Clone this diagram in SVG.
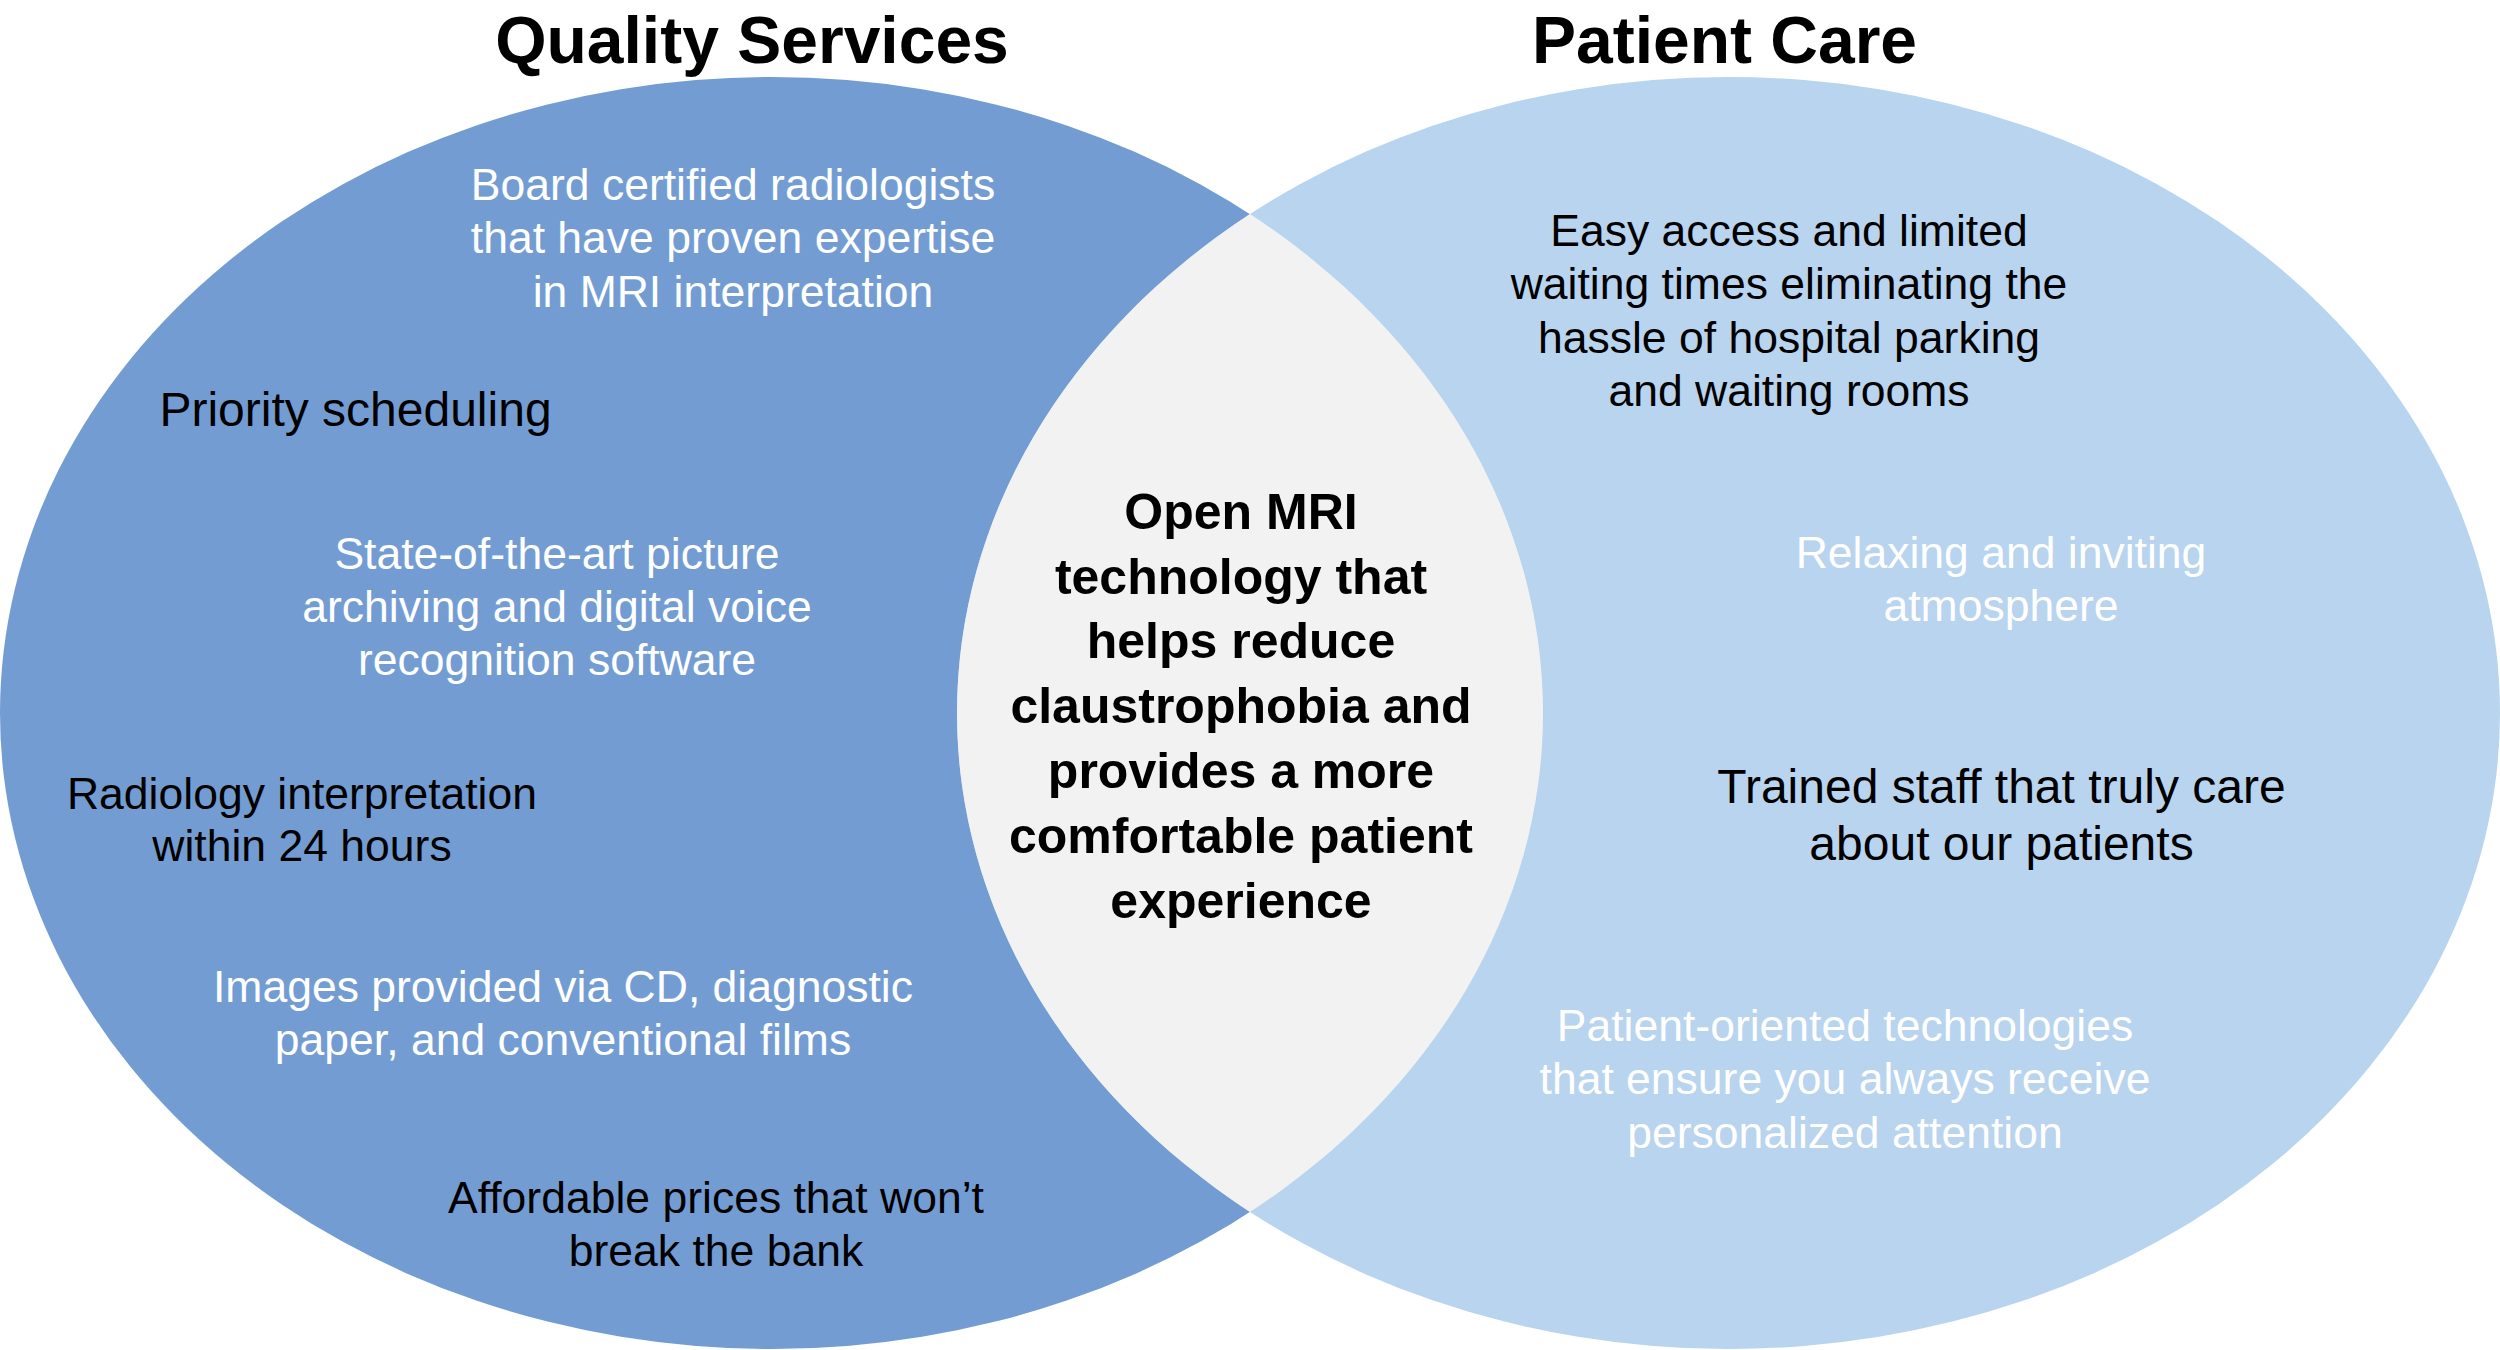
<svg xmlns="http://www.w3.org/2000/svg" width="2500" height="1350" viewBox="0 0 2500 1350">
<style>
.t{font-family:"Liberation Sans",Arial,Helvetica,sans-serif;text-anchor:middle}
.title{font-size:66px;font-weight:bold;fill:#000}
.b{font-size:44.5px}
.bl{font-size:48px}
.w{fill:#ffffff}
.k{fill:#000000}
.c{font-size:50px;font-weight:bold;fill:#000}
</style>
<rect width="2500" height="1350" fill="#ffffff"/>
<g id="quality-services">
<ellipse cx="771.5" cy="713" rx="771.5" ry="636" fill="#739DD2"/>
</g>
<g id="patient-care">
<ellipse cx="1728.5" cy="713" rx="771.5" ry="636" fill="#B8D4EE"/>
</g>
<g id="overlap">
<path d="M1250,214.1 A771.5,636 0 0,1 1250,1211.9 A771.5,636 0 0,1 1250,214.1 Z" fill="#F2F2F2"/>
</g>
<g id="titles">
<text class="t title" x="752" y="62.5">Quality Services</text>
<text class="t title" x="1724.5" y="62.5">Patient Care</text>
</g>
<g id="qs-radiologists">
<text class="t b w"><tspan x="733" y="199.5">Board certified radiologists</tspan><tspan x="733" y="253">that have proven expertise</tspan><tspan x="733" y="306.5">in MRI interpretation</tspan></text>
</g>
<g id="qs-priority">
<text class="t bl k" x="355.5" y="426">Priority scheduling</text>
</g>
<g id="qs-software">
<text class="t b w"><tspan x="557" y="569">State-of-the-art picture</tspan><tspan x="557" y="622">archiving and digital voice</tspan><tspan x="557" y="675">recognition software</tspan></text>
</g>
<g id="qs-interpretation">
<text class="t b k"><tspan x="302" y="808.5">Radiology interpretation</tspan><tspan x="302" y="861">within 24 hours</tspan></text>
</g>
<g id="qs-images">
<text class="t b w"><tspan x="563" y="1001.5">Images provided via CD, diagnostic</tspan><tspan x="563" y="1054.5">paper, and conventional films</tspan></text>
</g>
<g id="qs-prices">
<text class="t b k"><tspan x="716" y="1213">Affordable prices that won’t</tspan><tspan x="716" y="1266">break the bank</tspan></text>
</g>
<g id="center-open-mri">
<text class="t c"><tspan x="1241" y="529">Open MRI</tspan><tspan x="1241" y="593.5">technology that</tspan><tspan x="1241" y="658">helps reduce</tspan><tspan x="1241" y="723">claustrophobia and</tspan><tspan x="1241" y="788">provides a more</tspan><tspan x="1241" y="853">comfortable patient</tspan><tspan x="1241" y="917.5">experience</tspan></text>
</g>
<g id="pc-access">
<text class="t b k"><tspan x="1789" y="245.5">Easy access and limited</tspan><tspan x="1789" y="299">waiting times eliminating the</tspan><tspan x="1789" y="352.5">hassle of hospital parking</tspan><tspan x="1789" y="406">and waiting rooms</tspan></text>
</g>
<g id="pc-atmosphere">
<text class="t b w"><tspan x="2001" y="568">Relaxing and inviting</tspan><tspan x="2001" y="621">atmosphere</tspan></text>
</g>
<g id="pc-staff">
<text class="t bl k"><tspan x="2001.5" y="803">Trained staff that truly care</tspan><tspan x="2001.5" y="860">about our patients</tspan></text>
</g>
<g id="pc-technologies">
<text class="t b w"><tspan x="1845" y="1041">Patient-oriented technologies</tspan><tspan x="1845" y="1094">that ensure you always receive</tspan><tspan x="1845" y="1147.5">personalized attention</tspan></text>
</g>
</svg>
